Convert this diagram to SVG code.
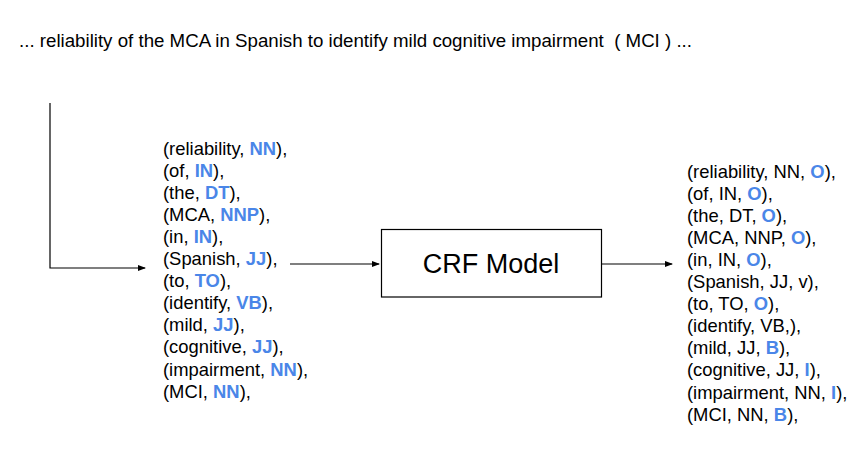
<svg xmlns="http://www.w3.org/2000/svg" width="861" height="450" viewBox="0 0 861 450">
<defs>
<marker id="ah" markerWidth="8" markerHeight="6" refX="7" refY="3" orient="auto" markerUnits="userSpaceOnUse">
<path d="M0,0 L8,3 L0,6 Z" fill="#000"/>
</marker>
<style>
text{font-family:"Liberation Sans",Arial,sans-serif;fill:#000;}
.t{font-size:18.4px;}
.b{fill:#4a86e8;font-weight:bold;}
.c{stroke:#000;stroke-width:1.2;fill:none;}
</style>
</defs>
<rect width="861" height="450" fill="#fff"/>
<g id="sentence">
<text x="19" y="47" font-size="18.7" xml:space="preserve">... reliability of the MCA in Spanish to identify mild cognitive impairment  ( MCI ) ...</text>
</g>
<g id="connectors">
<path class="c" d="M50,103 V268 H145" marker-end="url(#ah)"/>
<path class="c" d="M290,264 H379" marker-end="url(#ah)"/>
<path class="c" d="M602,264 H672" marker-end="url(#ah)"/>
</g>
<g id="pos-tagged">
<text class="t" x="163" y="154.5">(reliability, <tspan class="b">NN</tspan>),</text>
<text class="t" x="163" y="176.6">(of, <tspan class="b">IN</tspan>),</text>
<text class="t" x="163" y="198.7">(the, <tspan class="b">DT</tspan>),</text>
<text class="t" x="163" y="220.8">(MCA, <tspan class="b">NNP</tspan>),</text>
<text class="t" x="163" y="242.9">(in, <tspan class="b">IN</tspan>),</text>
<text class="t" x="163" y="265">(Spanish, <tspan class="b">JJ</tspan>),</text>
<text class="t" x="163" y="287.1">(to, <tspan class="b">TO</tspan>),</text>
<text class="t" x="163" y="309.2">(identify, <tspan class="b">VB</tspan>),</text>
<text class="t" x="163" y="331.3">(mild, <tspan class="b">JJ</tspan>),</text>
<text class="t" x="163" y="353.4">(cognitive, <tspan class="b">JJ</tspan>),</text>
<text class="t" x="163" y="375.5">(impairment, <tspan class="b">NN</tspan>),</text>
<text class="t" x="163" y="397.6">(MCI, <tspan class="b">NN</tspan>),</text>
</g>
<g id="crf-model">
<rect x="381.5" y="229.5" width="220" height="67.5" fill="#fff" stroke="#000" stroke-width="1.2"/>
<text x="491" y="273" font-size="27" text-anchor="middle">CRF Model</text>
</g>
<g id="bio-tagged">
<text class="t" x="687" y="177.5">(reliability, NN, <tspan class="b">O</tspan>),</text>
<text class="t" x="687" y="199.6">(of, IN, <tspan class="b">O</tspan>),</text>
<text class="t" x="687" y="221.7">(the, DT, <tspan class="b">O</tspan>),</text>
<text class="t" x="687" y="243.8">(MCA, NNP, <tspan class="b">O</tspan>),</text>
<text class="t" x="687" y="265.9">(in, IN, <tspan class="b">O</tspan>),</text>
<text class="t" x="687" y="288">(Spanish, JJ, v),</text>
<text class="t" x="687" y="310.1">(to, TO, <tspan class="b">O</tspan>),</text>
<text class="t" x="687" y="332.2">(identify, VB,),</text>
<text class="t" x="687" y="354.3">(mild, JJ, <tspan class="b">B</tspan>),</text>
<text class="t" x="687" y="376.4">(cognitive, JJ, <tspan class="b">I</tspan>),</text>
<text class="t" x="687" y="398.5">(impairment, NN, <tspan class="b">I</tspan>),</text>
<text class="t" x="687" y="420.6">(MCI, NN, <tspan class="b">B</tspan>),</text>
</g>
</svg>
